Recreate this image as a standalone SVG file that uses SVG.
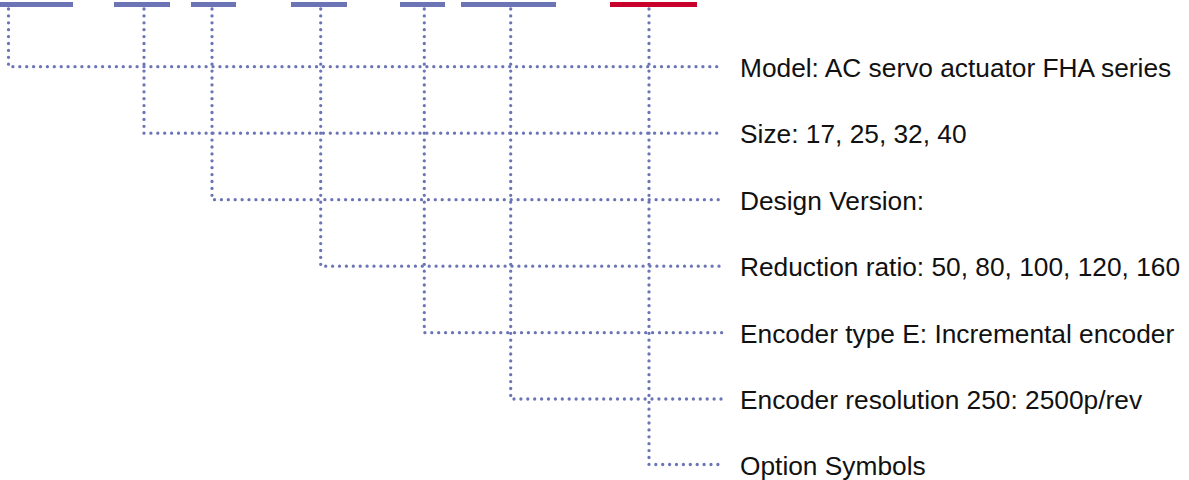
<svg xmlns="http://www.w3.org/2000/svg" width="1189" height="480" viewBox="0 0 1189 480">
<style>
.bar{fill:#6b75b6}
.bar-red{fill:#c8002c}
.lbl{font-family:"Liberation Sans",Arial,sans-serif;font-size:26.3px;fill:#111}
.conn{fill:none;stroke:#6b75b6;stroke-width:3.3;stroke-linecap:round;stroke-dasharray:0 6.9}
</style>
<rect width="1189" height="480" fill="#fff"/>
<g id="connectors">
<path class="conn" d="M8.5 9 V66.7 H722"/>
<path class="conn" d="M144 9 V133.2 H722"/>
<path class="conn" d="M212 9 V199.7 H722"/>
<path class="conn" d="M320.7 9 V266.2 H722"/>
<path class="conn" d="M424.3 9 V332.7 H722"/>
<path class="conn" d="M510.7 9 V399 H722"/>
<path class="conn" d="M649 9 V464.5 H722"/>
</g>
<g id="model"><rect class="bar" x="0" y="2" width="73" height="5"/><text class="lbl" x="740" y="76.7">Model: AC servo actuator FHA series</text></g>
<g id="size"><rect class="bar" x="114" y="2" width="56" height="5"/><text class="lbl" x="740" y="143.2">Size: 17, 25, 32, 40</text></g>
<g id="design-version"><rect class="bar" x="191" y="2" width="45" height="5"/><text class="lbl" x="740" y="209.7">Design Version:</text></g>
<g id="reduction-ratio"><rect class="bar" x="291" y="2" width="56" height="5"/><text class="lbl" x="740" y="276.2">Reduction ratio: 50, 80, 100, 120, 160</text></g>
<g id="encoder-type"><rect class="bar" x="400" y="2" width="45" height="5"/><text class="lbl" x="740" y="342.7">Encoder type E: Incremental encoder</text></g>
<g id="encoder-resolution"><rect class="bar" x="461" y="2" width="95" height="5"/><text class="lbl" x="740" y="409">Encoder resolution 250: 2500p/rev</text></g>
<g id="option-symbols"><rect class="bar-red" x="610" y="2" width="87" height="5"/><text class="lbl" x="740" y="474.5">Option Symbols</text></g>
</svg>
